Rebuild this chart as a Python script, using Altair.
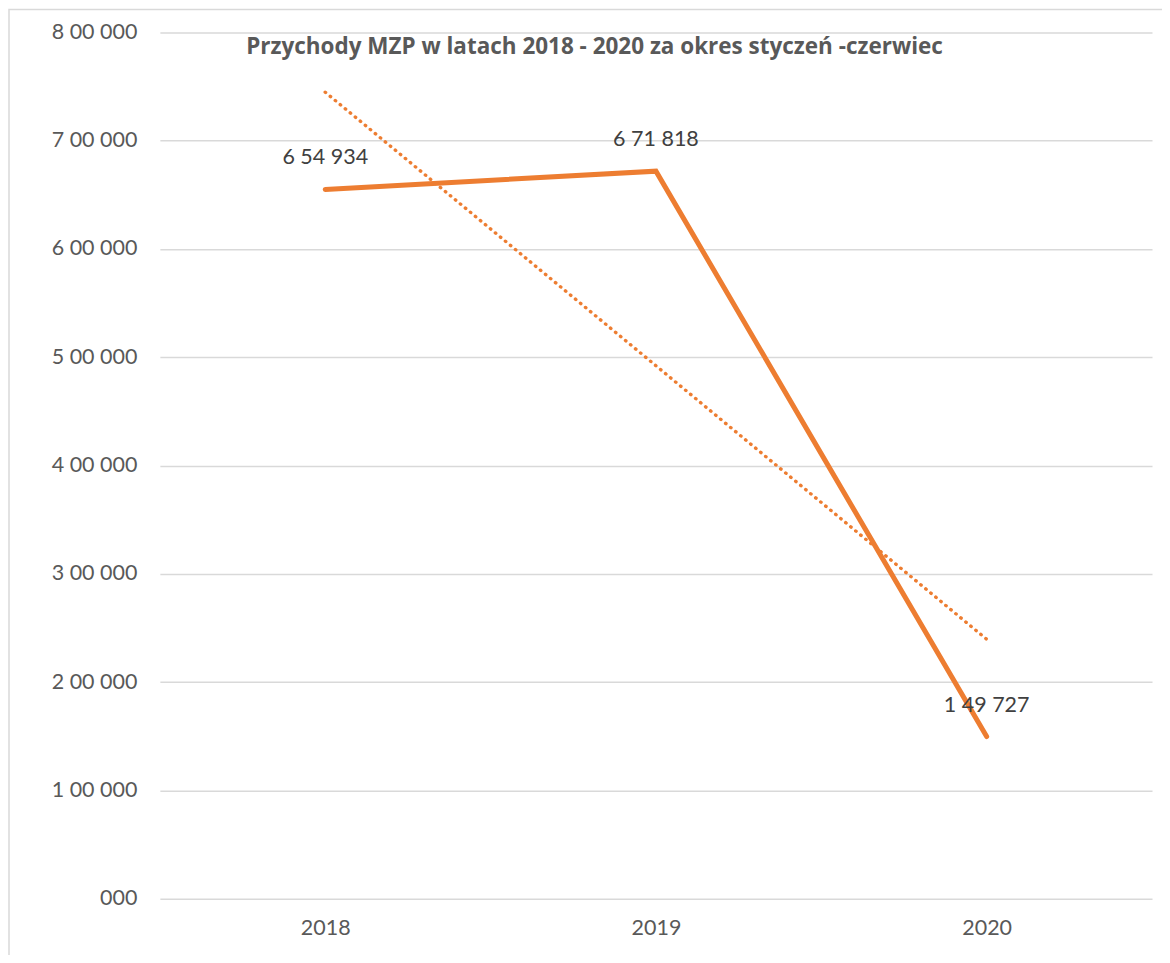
import altair as alt
import pandas as pd

years = [2018, 2019, 2020]
values = [654934, 671818, 149727]
title_text = "Przychody MZP w latach 2018 - 2020 za okres styczeń -czerwiec"
y_ticks = [0, 100000, 200000, 300000, 400000, 500000, 600000, 700000, 800000]

df = pd.DataFrame({"year": years, "value": values})

FONT = "Lato"
ORANGE = "#ed7d31"
LSIZE = 21.5

x = alt.X("year:Q", scale=alt.Scale(domain=[2017.5, 2020.5], nice=False, zero=False),
          axis=alt.Axis(values=years, format="d", grid=False, ticks=False, domain=False,
                        labelPadding=19, labelFontSize=LSIZE, labelColor="#595959",
                        labelFont=FONT, title=None))
y = alt.Y("value:Q", scale=alt.Scale(domain=[0, 800000], nice=False),
          axis=alt.Axis(values=y_ticks, grid=True, gridColor="#d9d9d9", gridWidth=1.5,
                        ticks=False, domain=False, labelPadding=23, labelFontSize=LSIZE,
                        labelColor="#595959", labelFont=FONT, title=None,
                        labelExpr="datum.value == 0 ? '000' : floor(datum.value/100000) + ' 00 000'"))

base = alt.Chart(df)

line = base.mark_line(color=ORANGE, strokeWidth=5, strokeCap="round", strokeJoin="miter").encode(x=x, y=y)

trend = base.transform_regression("year", "value", extent=[2018, 2020]).mark_line(
    color=ORANGE, strokeWidth=3.4, strokeDash=[0.5, 6], strokeCap="round"
).encode(x=alt.X("year:Q"), y=alt.Y("value:Q"))

labels = base.transform_calculate(
    lab="floor(datum.value/100000) + ' ' + pad(floor((datum.value%100000)/1000), 2, '0', 'left') + ' ' + pad(datum.value%1000, 3, '0', 'left')"
).mark_text(dy=-31, fontSize=LSIZE, font=FONT, color="#404040").encode(
    x=alt.X("year:Q"), y=alt.Y("value:Q"), text="lab:N")

title = alt.Chart(pd.DataFrame({"t": [title_text]})).mark_text(
    fontSize=22.5, fontWeight="bold", font="Open Sans", color="#595959", align="center", baseline="middle"
).encode(x=alt.value(435), y=alt.value(15), text="t:N")

border = alt.Chart(pd.DataFrame({"a": [1]})).mark_rect(
    fill=None, stroke="#d9d9d9", strokeWidth=1.5, clip=False
).encode(x=alt.value(-151), x2=alt.value(1030), y=alt.value(-23), y2=alt.value(960))

chart = alt.layer(border, trend, line, labels, title).properties(
    width=993, height=867,
    autosize=alt.AutoSizeParams(type="none"),
    padding={"left": 152, "top": 24, "right": 10, "bottom": 56},
).configure_view(stroke=None)

chart.save("out.html", embed_options={"renderer": "svg", "actions": False})
